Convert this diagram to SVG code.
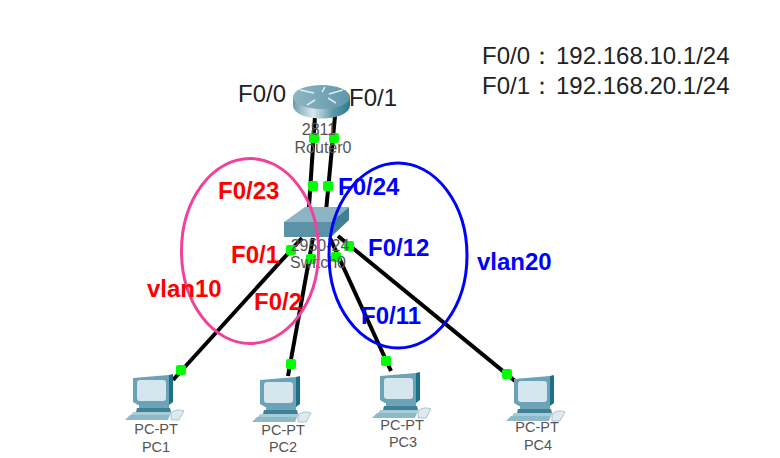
<svg xmlns="http://www.w3.org/2000/svg" width="780" height="458" viewBox="0 0 780 458">
<style>
text{font-family:"Liberation Sans",Arial,sans-serif}
.big{font-size:24px;fill:#222}
.red{font-size:24px;font-weight:bold;fill:#f00}
.blue{font-size:24px;font-weight:bold;fill:#00f}
.dev{font-size:16px;fill:#555;text-anchor:middle}
.pct{font-size:14.500px;fill:#555;text-anchor:middle}
.link{stroke:#000;stroke-width:4;fill:none}
.port{fill:#0f0}
.icon{filter:url(#soft)}
</style>
<defs>
<filter id="soft" x="-10%" y="-10%" width="120%" height="120%"><feGaussianBlur stdDeviation="0.500"/></filter>
<linearGradient id="rb" x1="0" x2="1" y1="0" y2="0">
<stop offset="0" stop-color="#6f9dae"/><stop offset=".35" stop-color="#d9e9ee"/><stop offset=".7" stop-color="#5f98aa"/><stop offset="1" stop-color="#2f7a90"/>
</linearGradient>
<linearGradient id="rt" x1="0" x2="1" y1="0" y2="0">
<stop offset="0" stop-color="#8fb6c4"/><stop offset="1" stop-color="#5f96a9"/>
</linearGradient>
<g id="pc">
<path d="M0 3 L36 0 L36 30 L5 30 L0 27Z" fill="#69a3b5"/>
<path d="M36 0 L40 -1 L40 27 L36 30Z" fill="#1f6f88"/>
<rect x="4" y="5" width="29" height="21" rx="3" fill="#d6e6ee"/>
<path d="M6 30 H36 V33 H6Z" fill="#6fa3b5"/>
<path d="M4 33 L37 33 L38 37 L3 37Z" fill="#3e8298"/>
<path d="M0 37 H39 L37 40 H-2Z" fill="#a9cbd6"/>
<path d="M-8 45 L-3 40 L37 40 L35 45Z" fill="#8dbac8"/>
<path d="M38 38 Q44 33 51 36 L46 45 L38 45Z" fill="#dfe9ed" stroke="#a9c4cc" stroke-width="1"/>
</g>
</defs>
<rect width="780" height="458" fill="#fff"/>
<g id="connectors">
<path class="link" d="M315 116 L308 222"/>
<path class="link" d="M335 116 L325 222"/>
<path class="link" d="M302 238 L173 380"/>
<path class="link" d="M313 238 L288 376"/>
<path class="link" d="M330 238 L391 371"/>
<path class="link" d="M338 236 L515 381"/>
<g class="port">
<rect x="309" y="133" width="10" height="10" rx="2"/><rect x="329" y="133" width="10" height="10" rx="2"/>
<rect x="308" y="181" width="10" height="10" rx="2"/><rect x="323" y="181" width="10" height="10" rx="2"/>
<rect x="286" y="245" width="10" height="10" rx="2"/><rect x="306" y="254" width="10" height="10" rx="2"/>
<rect x="331" y="252" width="10" height="10" rx="2"/><rect x="344" y="241" width="10" height="10" rx="2"/>
<rect x="176" y="365" width="10" height="10" rx="2"/><rect x="286" y="359" width="10" height="10" rx="2"/>
<rect x="381" y="356" width="10" height="10" rx="2"/><rect x="502" y="369" width="10" height="10" rx="2"/>
</g>
</g>
<g id="router0">
<g class="icon">
<path d="M293 97 V105 C293 123 350 123 350 105 V97Z" fill="url(#rb)"/>
<ellipse cx="321.500" cy="97" rx="28.500" ry="12" fill="url(#rt)"/>
<path d="M300 90 L314 93 M343 90 L329 94 M315 100 L307 105 M328 98 L336 103 M322 92 L325 87" stroke="#dcebf0" stroke-width="1.500" fill="none"/>
</g>
<text class="dev" x="319" y="135">2811</text>
<text class="dev" x="323" y="153">Router0</text>
</g>
<g id="switch0">
<g class="icon">
<path d="M284 222 L305 207 H349 L331 222Z" fill="#8db4c3"/>
<path d="M284 222 H331 V237 H284Z" fill="#5b92a7"/>
<path d="M331 222 L349 207 V220 L331 237Z" fill="#3f7f95"/>
</g>
<text class="dev" x="320" y="251">2950-24</text>
<text class="dev" x="318" y="268">Switch0</text>
</g>
<g id="vlan10"><ellipse cx="250" cy="251" rx="68.500" ry="92.500" fill="none" stroke="#f0429a" stroke-width="3"/></g>
<g id="vlan20"><ellipse cx="398" cy="255.500" rx="69" ry="92.500" fill="none" stroke="#00f" stroke-width="3"/></g>
<g id="pc1"><use class="icon" href="#pc" x="133" y="375"/><text class="pct" x="156" y="434">PC-PT</text><text class="pct" x="156" y="452">PC1</text></g>
<g id="pc2"><use class="icon" href="#pc" x="260" y="377"/><text class="pct" x="283" y="435">PC-PT</text><text class="pct" x="283" y="452">PC2</text></g>
<g id="pc3"><use class="icon" href="#pc" x="380" y="373"/><text class="pct" x="402" y="430">PC-PT</text><text class="pct" x="403" y="447">PC3</text></g>
<g id="pc4"><use class="icon" href="#pc" x="514" y="376"/><text class="pct" x="537" y="432">PC-PT</text><text class="pct" x="538" y="450">PC4</text></g>
<g id="labels">
<text class="big" x="238" y="102">F0/0</text>
<text class="big" x="349" y="106">F0/1</text>
<text class="big" x="482" y="64">F0/0：<tspan x="556">192.168.10.1/24</tspan></text>
<text class="big" x="482" y="94">F0/1：<tspan x="556">192.168.20.1/24</tspan></text>
<text class="red" x="218" y="199">F0/23</text>
<text class="blue" x="338" y="195">F0/24</text>
<text class="red" x="231" y="263">F0/1</text>
<text class="blue" x="368" y="256">F0/12</text>
<text class="red" x="254" y="310">F0/2</text>
<text class="blue" x="361" y="324">F0/11</text>
<text class="red" x="147" y="297">vlan10</text>
<text class="blue" x="477" y="270">vlan20</text>
</g>
</svg>
